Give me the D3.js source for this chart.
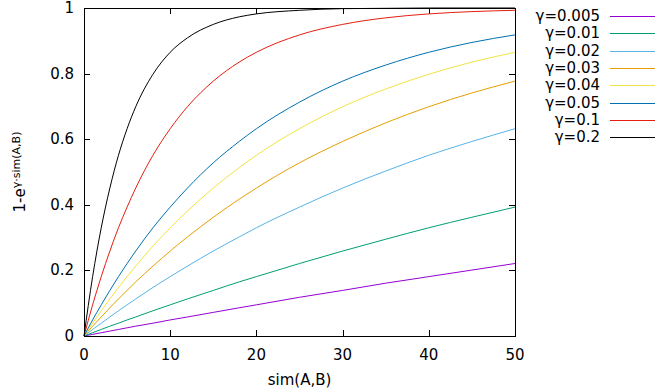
<!DOCTYPE html>
<html>
<head>
<meta charset="utf-8">
<script src="https://cdn.jsdelivr.net/npm/d3@7"></script>
<style>
  body { margin: 0; background: #fff; }
  svg { display: block; font-family: "DejaVu Sans", sans-serif; }
</style>
</head>
<body>
<div class="chart"></div>
<script>
// sample positions along sim(A,B)
var simValues = [0, 1, 2, 3, 4, 5, 6, 8, 10, 12, 15, 18, 20, 25, 30, 35, 40, 45, 50];

// values, one list per gamma
var g0005 = [0, .005, .010, .015, .020, .025, .030, .039, .049, .058, .072, .086, .095, .118, .139, .161, .181, .201, .221];
var g001  = [0, .010, .020, .030, .039, .049, .058, .077, .095, .113, .139, .165, .181, .221, .259, .295, .330, .362, .393];
var g002  = [0, .020, .039, .058, .077, .095, .113, .148, .181, .213, .259, .302, .330, .393, .451, .503, .551, .593, .632];
var g003  = [0, .030, .058, .086, .113, .139, .165, .213, .259, .302, .362, .417, .451, .528, .593, .650, .699, .741, .777];
var g004  = [0, .039, .077, .113, .148, .181, .213, .274, .330, .381, .451, .513, .551, .632, .699, .753, .798, .835, .865];
var g005  = [0, .049, .095, .139, .181, .221, .259, .330, .393, .451, .528, .593, .632, .713, .777, .826, .865, .895, .918];
var g01   = [0, .095, .181, .259, .330, .393, .451, .551, .632, .699, .777, .835, .865, .918, .950, .970, .982, .989, .993];
var g02   = [0, .181, .330, .451, .551, .632, .699, .798, .865, .909, .950, .973, .982, .993, .998, .999, 1, 1, 1];

var seriesNames = ["γ=0.005", "γ=0.01", "γ=0.02", "γ=0.03", "γ=0.04", "γ=0.05", "γ=0.1", "γ=0.2"];
var seriesValues = [g0005, g001, g002, g003, g004, g005, g01, g02];
var seriesColors = ["#9400d3", "#009e73", "#56b4e9", "#e69f00", "#f0e442", "#0072b2", "#e51e10", "#000000"];

var xTicks = [0, 10, 20, 30, 40, 50];
var yTicks = [0, 0.2, 0.4, 0.6, 0.8, 1];

var width = 667, height = 390;
var margin = {left: 84, right: 152, top: 8, bottom: 54};

var svg = d3.select(".chart").append("svg")
    .attr("width", width)
    .attr("height", height);

var x = d3.scaleLinear().domain([0, 50]).range([margin.left, width - margin.right]);
var y = d3.scaleLinear().domain([0, 1]).range([height - margin.bottom, margin.top]);

// tick marks on all four sides, pointing inward
var tickLen = 6;
var ticks = svg.append("g").attr("stroke", "#000").attr("stroke-width", 1);
xTicks.forEach(function(t){
  var px = Math.round(x(t)) + 0.5;
  ticks.append("line").attr("x1", px).attr("x2", px).attr("y1", y(0)).attr("y2", y(0) - tickLen);
  ticks.append("line").attr("x1", px).attr("x2", px).attr("y1", y(1)).attr("y2", y(1) + tickLen);
});
yTicks.forEach(function(t){
  var py = Math.round(y(t)) + 0.5;
  ticks.append("line").attr("x1", x(0)).attr("x2", x(0) + tickLen).attr("y1", py).attr("y2", py);
  ticks.append("line").attr("x1", x(50)).attr("x2", x(50) - tickLen).attr("y1", py).attr("y2", py);
});

// tick labels
svg.append("g").selectAll("text").data(xTicks).enter().append("text")
  .attr("x", function(d){ return x(d); })
  .attr("y", y(0) + 24)
  .attr("text-anchor", "middle")
  .attr("font-size", 15)
  .text(function(d){ return d; });

svg.append("g").selectAll("text").data(yTicks).enter().append("text")
  .attr("x", x(0) - 10)
  .attr("y", function(d){ return y(d) + 5; })
  .attr("text-anchor", "end")
  .attr("font-size", 15)
  .text(function(d){ return d; });

// curves
var line = d3.line()
  .x(function(d){ return x(d[0]); })
  .y(function(d){ return y(d[1]); })
  .curve(d3.curveMonotoneX);

var curves = svg.append("g");
seriesValues.forEach(function(vals, i){
  curves.append("path")
    .datum(simValues.map(function(s, j){ return [s, vals[j]]; }))
    .attr("d", line)
    .attr("fill", "none")
    .attr("stroke", seriesColors[i])
    .attr("stroke-width", 1);
});

// frame
svg.append("rect")
  .attr("x", x(0) + 0.5).attr("y", y(1) + 0.5)
  .attr("width", x(50) - x(0)).attr("height", y(0) - y(1))
  .attr("fill", "none").attr("stroke", "#000").attr("stroke-width", 1);

// axis titles
svg.append("text")
  .attr("x", (x(0) + x(50)) / 2)
  .attr("y", 385)
  .attr("text-anchor", "middle")
  .attr("font-size", 15)
  .text("sim(A,B)");

var yl = svg.append("text")
  .attr("transform", "translate(25," + ((y(0) + y(1)) / 2) + ") rotate(-90)")
  .attr("text-anchor", "middle")
  .attr("font-size", 15);
yl.append("tspan").text("1-e");
yl.append("tspan").attr("font-size", 11).attr("dy", -5).text("γ·sim(A,B)");

// legend
var legend = svg.append("g");
seriesNames.forEach(function(name, i){
  var ly = 16 + i * 17.3;
  legend.append("text")
    .attr("x", 600).attr("y", ly + 5)
    .attr("text-anchor", "end")
    .attr("font-size", 15)
    .text(name);
  legend.append("line")
    .attr("x1", 610).attr("x2", 655)
    .attr("y1", Math.round(ly) + 0.5).attr("y2", Math.round(ly) + 0.5)
    .attr("stroke", seriesColors[i]).attr("stroke-width", 1);
});
</script>
</body>
</html>
